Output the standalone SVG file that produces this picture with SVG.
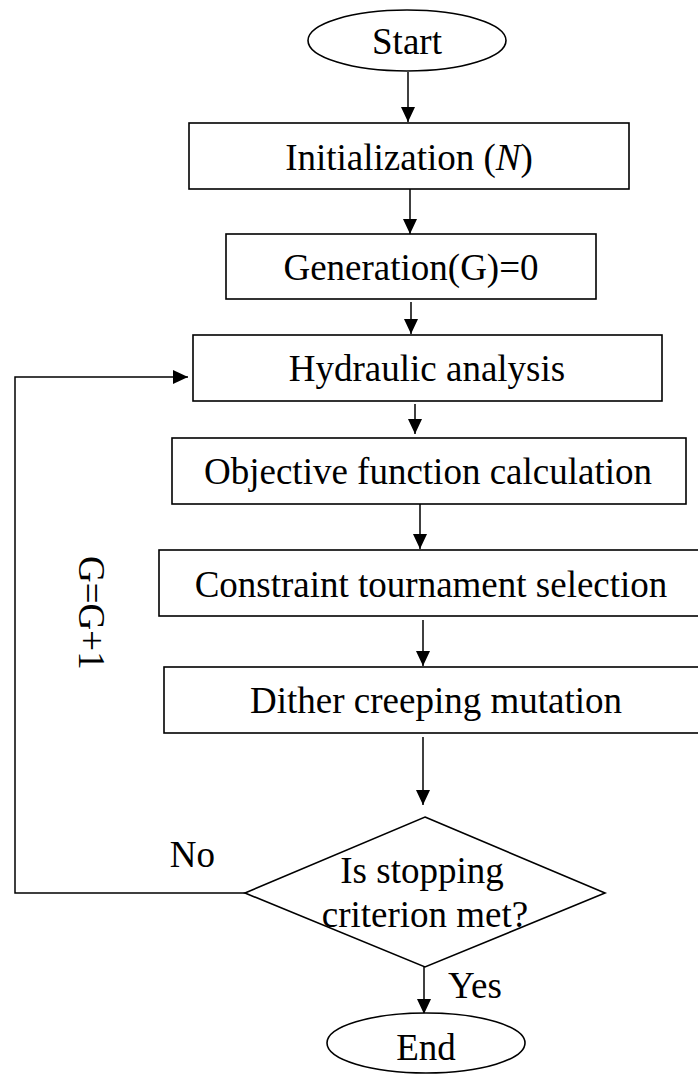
<svg xmlns="http://www.w3.org/2000/svg" width="698" height="1074" viewBox="0 0 698 1074">
<style>
.box{fill:#fff;stroke:#000;stroke-width:1.6}
.ln{fill:none;stroke:#000;stroke-width:1.5}
.t{font-family:"Liberation Serif","Times New Roman",serif;font-size:37px;fill:#000}
.c{text-anchor:middle}
</style>
<defs>
<marker id="ah" markerUnits="userSpaceOnUse" markerWidth="15" markerHeight="14" refX="15" refY="7" orient="auto">
<path d="M0,0 L15,7 L0,14 z" fill="#000"/>
</marker>
</defs>
<rect width="698" height="1074" fill="#fff"/>
<g id="connectors">
<line class="ln" x1="408" y1="72" x2="408" y2="122" marker-end="url(#ah)"/>
<line class="ln" x1="410" y1="189" x2="410" y2="234" marker-end="url(#ah)"/>
<line class="ln" x1="411" y1="302" x2="411" y2="334" marker-end="url(#ah)"/>
<line class="ln" x1="415" y1="404" x2="415" y2="434" marker-end="url(#ah)"/>
<line class="ln" x1="420" y1="502" x2="420" y2="549" marker-end="url(#ah)"/>
<line class="ln" x1="423" y1="620" x2="423" y2="666" marker-end="url(#ah)"/>
<line class="ln" x1="423" y1="737" x2="423" y2="805" marker-end="url(#ah)"/>
<line class="ln" x1="424" y1="957" x2="424" y2="1014" marker-end="url(#ah)"/>
<polyline class="ln" points="245,893 15,893 15,377 188,377" marker-end="url(#ah)"/>
<text class="t" x="215" y="867" text-anchor="end">No</text>
<text class="t" x="448" y="998">Yes</text>
<text class="t" transform="translate(79,556) rotate(90)">G=G+1</text>
</g>
<g id="start">
<ellipse class="box" cx="407" cy="40.5" rx="99" ry="30.5"/>
<text class="t c" x="407" y="54">Start</text>
</g>
<g id="init">
<rect class="box" x="189" y="123" width="440" height="66"/>
<text class="t c" x="409" y="170">Initialization (<tspan font-style="italic">N</tspan>)</text>
</g>
<g id="generation">
<rect class="box" x="226" y="234" width="370" height="65"/>
<text class="t c" x="411" y="280">Generation(G)=0</text>
</g>
<g id="hydraulic">
<rect class="box" x="193" y="335" width="469" height="66"/>
<text class="t c" x="427" y="381">Hydraulic analysis</text>
</g>
<g id="objective">
<rect class="box" x="172" y="438" width="514" height="66"/>
<text class="t c" x="428" y="484">Objective function calculation</text>
</g>
<g id="constraint">
<rect class="box" x="159" y="550" width="544" height="66"/>
<text class="t c" x="431" y="597">Constraint tournament selection</text>
</g>
<g id="dither">
<rect class="box" x="164" y="667" width="545" height="66"/>
<text class="t c" x="436" y="713">Dither creeping mutation</text>
</g>
<g id="decision">
<polygon class="box" points="425,817 605,893 425,967 245,893"/>
<text class="t c" x="422" y="883">Is stopping</text>
<text class="t c" x="425" y="927">criterion met?</text>
</g>
<g id="end">
<ellipse class="box" cx="426" cy="1043" rx="99" ry="30"/>
<text class="t c" x="426" y="1060">End</text>
</g>
</svg>
